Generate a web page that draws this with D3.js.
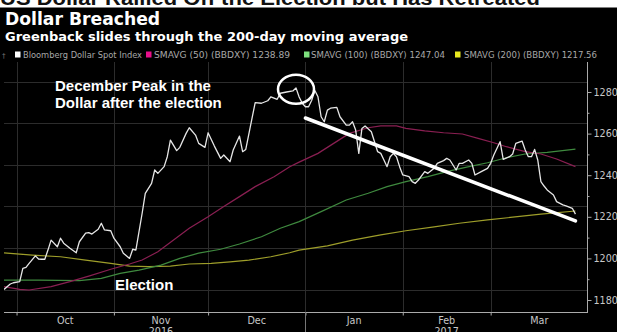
<!DOCTYPE html>
<html><head><meta charset="utf-8">
<script src="https://cdn.jsdelivr.net/npm/d3@7"></script>
<style>
html,body{margin:0;padding:0;background:#000;overflow:hidden}
svg{display:block}
</style></head><body>
<svg id="c" width="617" height="332"></svg>
<script>
// ---------- DATA ----------
const headline = "US Dollar Rallied Off the Election but Has Retreated";
const title = "Dollar Breached";
const subtitle = "Greenback slides through the 200-day moving average";
const legendLabels = ["Bloomberg Dollar Spot Index","SMAVG (50) (BBDXY) 1238.89","SMAVG (100) (BBDXY) 1247.04","SMAVG (200) (BBDXY) 1217.56"];
const yTicks = [1180,1200,1220,1240,1260,1280];
const yMinorTicks = [1190,1210,1230,1250,1270];
const yGrid = [1185,1205,1225,1245,1265,1285];
const monthLabels = ["Oct","Nov","Dec","Jan","Feb","Mar"];
const monthStarts = ["2016-10-01","2016-11-01","2016-12-01","2017-01-01","2017-02-01","2017-03-01","2017-04-01"];
const yearLabels = [["2016","2016-11-16"],["2017","2017-02-15"]];
const xDomain = ["2016-09-27","2017-04-01"];

const spot = [["2016-09-27",1185.1],["2016-09-29",1187.7],["2016-09-30",1188.3],["2016-10-02",1188.8],["2016-10-03",1195.2],["2016-10-04",1195.7],["2016-10-05",1197.6],["2016-10-07",1201.2],["2016-10-08",1199.7],["2016-10-09",1199.6],["2016-10-10",1199.6],["2016-10-11",1204],["2016-10-12",1208.8],["2016-10-14",1205.6],["2016-10-15",1209.7],["2016-10-16",1207.3],["2016-10-18",1204.9],["2016-10-20",1202.7],["2016-10-21",1208],["2016-10-23",1212.1],["2016-10-24",1212.4],["2016-10-25",1211.7],["2016-10-27",1214],["2016-10-28",1216.9],["2016-10-29",1213.7],["2016-10-31",1213.3],["2016-11-01",1209.7],["2016-11-03",1205.6],["2016-11-04",1202.5],["2016-11-06",1200],["2016-11-07",1204.4],["2016-11-08",1204],["2016-11-10",1221.7],["2016-11-11",1231.3],["2016-11-13",1236.1],["2016-11-14",1242.5],["2016-11-15",1240.9],["2016-11-17",1244.1],["2016-11-18",1248.9],["2016-11-19",1256.9],["2016-11-21",1251.8],["2016-11-22",1253.4],["2016-11-24",1260.1],["2016-11-25",1262.8],["2016-11-27",1259.3],["2016-11-28",1255.3],["2016-11-30",1253.4],["2016-12-01",1260.4],["2016-12-03",1254],["2016-12-05",1248.1],["2016-12-06",1249.7],["2016-12-08",1246.5],["2016-12-09",1252.1],["2016-12-11",1258.8],["2016-12-12",1251.3],["2016-12-13",1252.4],["2016-12-15",1267.4],["2016-12-16",1274.9],["2016-12-18",1274.6],["2016-12-20",1275.8],["2016-12-21",1277.7],["2016-12-23",1276.5],["2016-12-24",1279.4],["2016-12-26",1280],["2016-12-28",1280.5],["2016-12-29",1282],["2016-12-30",1277.6],["2016-12-31",1274.6],["2017-01-01",1272.9],["2017-01-02",1272.9],["2017-01-03",1276],["2017-01-04",1280.7],["2017-01-05",1277.7],["2017-01-06",1268.1],["2017-01-07",1265.7],["2017-01-08",1271.3],["2017-01-09",1272.2],["2017-01-11",1272.6],["2017-01-12",1268.1],["2017-01-14",1264.1],["2017-01-15",1264.1],["2017-01-16",1265.7],["2017-01-17",1261.7],["2017-01-18",1250.5],["2017-01-19",1262.5],["2017-01-20",1263.7],["2017-01-22",1260.9],["2017-01-23",1256.1],["2017-01-24",1251.3],["2017-01-25",1250.5],["2017-01-26",1247.3],["2017-01-27",1244.1],["2017-01-28",1248.9],["2017-01-29",1250.5],["2017-01-30",1248.9],["2017-01-31",1244.1],["2017-02-01",1240.1],["2017-02-03",1239.3],["2017-02-04",1236.9],["2017-02-05",1236.1],["2017-02-06",1237.7],["2017-02-08",1241.7],["2017-02-09",1240.9],["2017-02-11",1243.3],["2017-02-12",1245.7],["2017-02-14",1247],["2017-02-15",1248.1],["2017-02-16",1247.3],["2017-02-18",1242.5],["2017-02-19",1245.7],["2017-02-20",1245.7],["2017-02-22",1247.3],["2017-02-23",1245.7],["2017-02-24",1240.1],["2017-02-26",1241.7],["2017-02-28",1243.3],["2017-03-01",1245.7],["2017-03-02",1249.7],["2017-03-04",1256.1],["2017-03-05",1247.6],["2017-03-07",1248.9],["2017-03-08",1250.2],["2017-03-09",1255.3],["2017-03-11",1256.4],["2017-03-12",1252.1],["2017-03-13",1248.9],["2017-03-14",1248.9],["2017-03-15",1252.4],["2017-03-16",1247.3],["2017-03-17",1236.9],["2017-03-18",1234.8],["2017-03-19",1232.9],["2017-03-21",1230.5],["2017-03-22",1227.3],["2017-03-24",1225.7],["2017-03-25",1225.3],["2017-03-27",1224.1],["2017-03-28",1221.3]];

const sma50 = [["2016-09-27",1186.4],["2016-10-02",1185.1],["2016-10-05",1184.8],["2016-10-12",1186.4],["2016-10-18",1188.8],["2016-10-24",1191.5],["2016-10-31",1194.8],["2016-11-06",1197.3],["2016-11-10",1199.2],["2016-11-15",1203.2],["2016-11-20",1208.8],["2016-11-25",1214.5],["2016-12-01",1220],["2016-12-06",1224.9],["2016-12-11",1229.7],["2016-12-16",1234.5],["2016-12-22",1239.3],["2016-12-27",1244.1],["2016-12-30",1246.3],["2017-01-05",1250.5],["2017-01-10",1255.3],["2017-01-15",1260.1],["2017-01-21",1262.8],["2017-01-25",1263.7],["2017-01-30",1263.7],["2017-02-02",1262.5],["2017-02-08",1261.3],["2017-02-14",1260.4],["2017-02-20",1259.8],["2017-02-25",1257.7],["2017-03-02",1255.6],["2017-03-06",1253.7],["2017-03-12",1251.3],["2017-03-17",1250.2],["2017-03-22",1247.8],["2017-03-28",1244.1]];

const sma100 = [["2016-09-27",1189.6],["2016-10-08",1189.6],["2016-10-21",1189.3],["2016-10-28",1190.4],["2016-11-03",1192.8],["2016-11-09",1194.4],["2016-11-16",1196.8],["2016-11-22",1200],["2016-11-28",1202.5],["2016-12-05",1204.4],["2016-12-11",1206.9],["2016-12-18",1210.4],["2016-12-24",1214.5],["2016-12-30",1217.7],["2017-01-06",1222.5],["2017-01-14",1228.1],["2017-01-21",1231.3],["2017-01-27",1234.5],["2017-02-02",1236.9],["2017-02-09",1239.3],["2017-02-15",1241.7],["2017-02-21",1243.8],["2017-02-28",1246],["2017-03-06",1248.4],["2017-03-12",1250.2],["2017-03-19",1251],["2017-03-28",1252.5]];

const sma200 = [["2016-09-27",1202.7],["2016-10-06",1201.6],["2016-10-15",1200.8],["2016-10-23",1199.2],["2016-10-31",1197.6],["2016-11-06",1196.3],["2016-11-12",1196],["2016-11-19",1196.3],["2016-11-25",1197.3],["2016-12-02",1197.6],["2016-12-08",1198.3],["2016-12-14",1199.2],["2016-12-21",1200.8],["2016-12-27",1202.7],["2016-12-30",1204],["2017-01-08",1206],["2017-01-16",1208.8],["2017-01-25",1211.3],["2017-02-02",1213.3],["2017-02-11",1215.2],["2017-02-19",1216.9],["2017-02-28",1218.5],["2017-03-08",1219.8],["2017-03-17",1221.3],["2017-03-28",1222.8]];

// annotations
const trendLine = [["2017-01-01",1267.5],["2017-03-28",1218]];
const peakMark = ["2016-12-29",1282];
const peakText = ["December Peak in the","Dollar after the election"];
const electionText = "Election";

// ---------- DRAW ----------
const parse = d3.timeParse("%Y-%m-%d");
const svg = d3.select("#c");
const W = 617, H = 332;
const plot = {left:4, right:588, top:62, bottom:312};

const x = d3.scaleTime().domain(xDomain.map(parse)).range([4, 588]);
const y = d3.scaleLinear().domain([1180,1280]).range([300,92]);

svg.append("rect").attr("width",W).attr("height",H).attr("fill","#000");

// headline strip
svg.append("rect").attr("x",0).attr("y",0).attr("width",W).attr("height",8).attr("fill","#fff");
svg.append("text").attr("x",0).attr("y",5).text(headline)
  .attr("font-family","Liberation Sans, Arial, sans-serif").attr("font-weight","bold")
  .attr("font-size",21).attr("fill","#111").attr("textLength",540).attr("lengthAdjust","spacingAndGlyphs");
svg.append("rect").attr("x",0).attr("y",7.5).attr("width",W).attr("height",8).attr("fill","#000");

svg.append("text").attr("x",5).attr("y",25).text(title)
  .attr("font-family","DejaVu Sans").attr("font-weight","bold").attr("font-size",17.2).attr("fill","#fff");
svg.append("text").attr("x",5).attr("y",41).text(subtitle)
  .attr("font-family","DejaVu Sans").attr("font-weight","bold").attr("font-size",13).attr("fill","#fff");

// legend
const legColors = ["#ffffff","#e8108a","#7ee07e","#e8e81e"];
const legX = [15, 146, 304, 455];
const legTextX = [23, 154, 311, 464];
const legTextW = [119, 136, 134, 133];
svg.append("text").attr("x",2).attr("y",58).text("\u2020").attr("font-size",7).attr("fill","#777").attr("font-family","DejaVu Sans");
legendLabels.forEach((t,i)=>{
  svg.append("rect").attr("x",legX[i]).attr("y",51.5).attr("width",5.5).attr("height",6).attr("fill",legColors[i]);
  svg.append("text").attr("x",legTextX[i]).attr("y",58).text(t)
    .attr("font-family","DejaVu Sans").attr("font-size",8.8).attr("fill","#a8a8a8")
    .attr("textLength",legTextW[i]).attr("lengthAdjust","spacingAndGlyphs");
});

// grid
const g = svg.append("g");
g.selectAll(".hg").data(yGrid).join("line")
  .attr("x1",plot.left).attr("x2",plot.right-1).attr("y1",d=>Math.round(y(d))+0.5).attr("y2",d=>Math.round(y(d))+0.5)
  .attr("stroke","#2c2c2c").attr("stroke-width",1);
g.selectAll(".vg").data(monthStarts.slice(0,6)).join("line")
  .attr("x1",d=>Math.round(x(parse(d)))+0.5).attr("x2",d=>Math.round(x(parse(d)))+0.5)
  .attr("y1",plot.top).attr("y2",plot.bottom)
  .attr("stroke","#2c2c2c").attr("stroke-width",1);

// right axis
const yAxis = d3.axisRight(y).tickValues(yTicks).tickSize(4).tickPadding(2).tickFormat(d3.format("d"));
const ya = svg.append("g").attr("transform",`translate(${plot.right-0.5},0)`).call(yAxis);
ya.select(".domain").remove();
ya.selectAll("line").attr("stroke","#aaa");
ya.selectAll("text").attr("fill","#c8c8c8").attr("font-family","DejaVu Sans").attr("font-size",9.6);
const yMinor = d3.axisRight(y).tickValues(yMinorTicks).tickSize(2).tickFormat("");
const ym = svg.append("g").attr("transform",`translate(${plot.right-0.5},0)`).call(yMinor);
ym.select(".domain").remove();
ym.selectAll("line").attr("stroke","#aaa");
svg.append("line").attr("x1",plot.right-0.5).attr("x2",plot.right-0.5).attr("y1",plot.top).attr("y2",plot.bottom)
  .attr("stroke","#aaa");

// bottom axis
svg.append("line").attr("x1",plot.left).attr("x2",plot.right).attr("y1",plot.bottom+0.5).attr("y2",plot.bottom+0.5).attr("stroke","#aaa");
const xAxis = d3.axisBottom(x).tickValues(monthStarts.slice(0,6).map(parse)).tickSize(3).tickFormat("");
const xa = svg.append("g").attr("transform",`translate(0,${plot.bottom+0.5})`).call(xAxis);
xa.select(".domain").remove();
xa.selectAll("line").attr("stroke","#aaa");
svg.append("line").attr("x1",Math.round(x(parse("2017-01-01")))+0.5).attr("x2",Math.round(x(parse("2017-01-01")))+0.5)
  .attr("y1",plot.bottom).attr("y2",H).attr("stroke","#777");
monthLabels.forEach((m,i)=>{
  const a = parse(monthStarts[i]), b = parse(monthStarts[i+1]);
  svg.append("text").attr("x",(x(a)+x(b))/2).attr("y",324).attr("text-anchor","middle").text(m)
    .attr("font-family","DejaVu Sans").attr("font-size",9.6).attr("fill","#c8c8c8");
});
yearLabels.forEach(([t,d])=>{
  svg.append("text").attr("x",x(parse(d))).attr("y",335).attr("text-anchor","middle").text(t)
    .attr("font-family","DejaVu Sans").attr("font-size",9.6).attr("fill","#c8c8c8");
});

// series
const line = d3.line().x(d=>x(parse(d[0]))).y(d=>y(d[1]));
svg.append("clipPath").attr("id","pc").append("rect")
  .attr("x",plot.left).attr("y",plot.top).attr("width",plot.right-plot.left).attr("height",plot.bottom-plot.top);
const s = svg.append("g").attr("clip-path","url(#pc)");
s.append("path").datum(sma200).attr("d",line).attr("fill","none").attr("stroke","#9e9e2a").attr("stroke-width",1.2);
s.append("path").datum(sma100).attr("d",line).attr("fill","none").attr("stroke","#3f8a3f").attr("stroke-width",1.2);
s.append("path").datum(sma50).attr("d",line).attr("fill","none").attr("stroke","#8a1f52").attr("stroke-width",1.2);
s.append("path").datum(spot).attr("d",line).attr("fill","none").attr("stroke","#e6e6e6").attr("stroke-width",1.3).attr("stroke-linejoin","round");

// annotations
svg.append("line")
  .attr("x1",x(parse(trendLine[0][0]))).attr("y1",y(trendLine[0][1]))
  .attr("x2",x(parse(trendLine[1][0]))).attr("y2",y(trendLine[1][1]))
  .attr("stroke","#fff").attr("stroke-width",3.5).attr("stroke-linecap","round");
svg.append("ellipse").attr("cx",x(parse(peakMark[0]))).attr("cy",y(peakMark[1])+1.5).attr("rx",18).attr("ry",14.5)
  .attr("fill","none").attr("stroke","#fff").attr("stroke-width",2.5);
peakText.forEach((t,i)=>{
  svg.append("text").attr("x",55).attr("y",91+i*17).text(t)
    .attr("font-family","Liberation Sans, Arial, sans-serif").attr("font-weight","bold").attr("font-size",15).attr("fill","#fff");
});
svg.append("text").attr("x",115).attr("y",290).text(electionText)
  .attr("font-family","Liberation Sans, Arial, sans-serif").attr("font-weight","bold").attr("font-size",15).attr("fill","#fff");
</script>
</body></html>
